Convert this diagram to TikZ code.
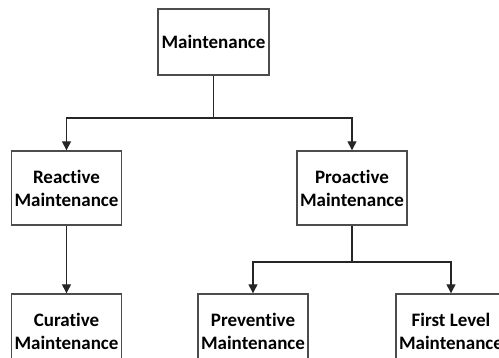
\documentclass[tikz,border=0pt]{standalone}
\usepackage{fontspec}
\setmainfont{Carlito}[Ligatures=NoCommon]
\usetikzlibrary{arrows.meta}

\begin{document}
\begin{tikzpicture}[x=1pt, y=-1pt,
        font = \fontsize{19}{23}\selectfont\bfseries,
        >={Triangle[width=9pt, length=9pt]},
        box/.style = {draw = black!70, line width = 1.4pt, fill = white,
                      align = center, inner sep = 0pt,
                      minimum width = 110pt, minimum height = 74pt},
        link/.style = {draw = black!85, line width = 1.3pt}]
            \clip (0,0) rectangle (499,357);
            \fill[white] (0,0) rectangle (499,357);

            % levels
            \node[box, minimum width = 111pt, minimum height = 66pt] (maint) at (213.5,42) {Maintenance};
            \node[box] (reactive) at (66.5,188) {Reactive\\Maintenance};
            \node[box] (proactive) at (352,188) {Proactive\\Maintenance};
            \node[box] (curative) at (66.5,331) {Curative\\Maintenance};
            \node[box] (preventive) at (253,331) {Preventive\\Maintenance};
            \node[box] (firstlevel) at (451,331) {First Level\\Maintenance};

            \coordinate (split1) at (213.5,118);
            \coordinate (split2) at (352,262);

            \draw[link] (maint) -- (split1);
            \draw[link, ->] (split1) -| (reactive);
            \draw[link, ->] (split1) -| (proactive);

            \draw[link, ->] (reactive) -- (curative);

            \draw[link] (proactive) -- (split2);
            \draw[link, ->] (split2) -| (preventive);
            \draw[link, ->] (split2) -| (firstlevel);
        \end{tikzpicture}
\end{document}
